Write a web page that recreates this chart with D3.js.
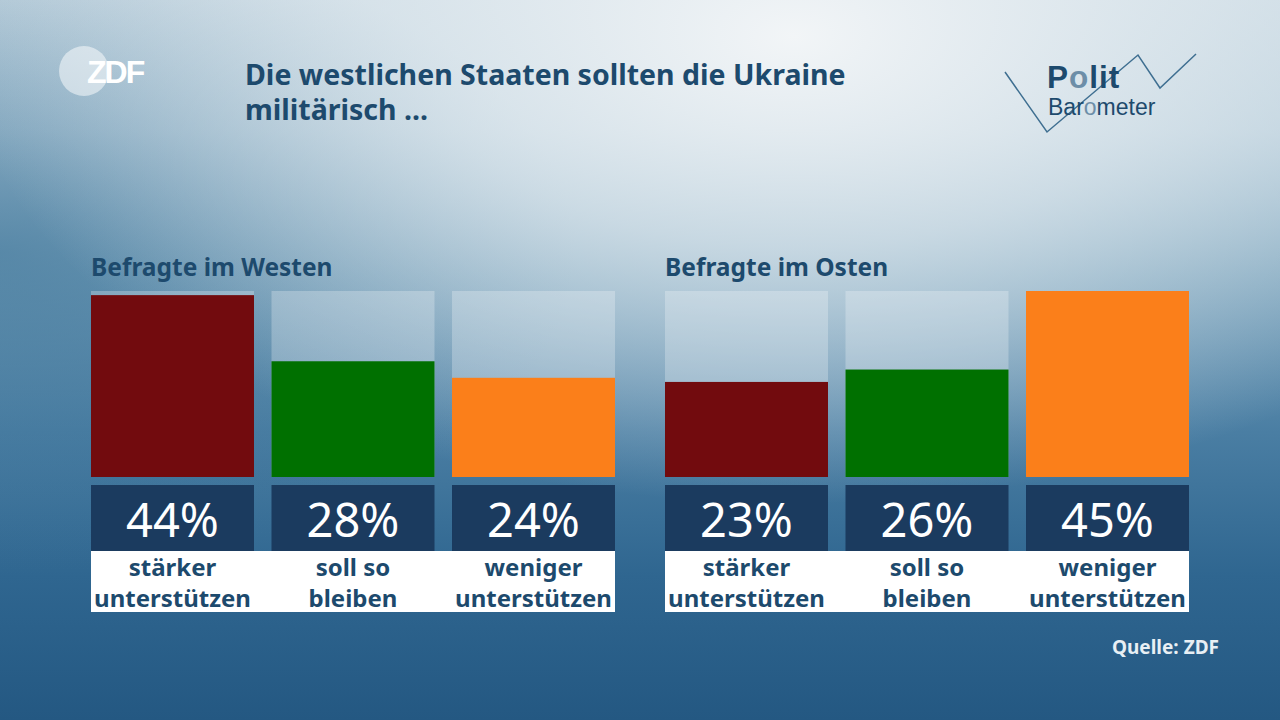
<!DOCTYPE html>
<html><head><meta charset="utf-8">
<script src="https://cdn.jsdelivr.net/npm/d3@7"></script>
<style>html,body{margin:0;padding:0;overflow:hidden;background:#245a85;}svg{display:block;font-family:"Noto Sans",Roboto,sans-serif;}</style>
</head><body><svg id="c" width="1280" height="720"></svg>
<script>
const title = ["Die westlichen Staaten sollten die Ukraine", "militärisch ..."];
const groups = ["Befragte im Westen", "Befragte im Osten"];
const categories = ["stärker\nunterstützen", "soll so\nbleiben", "weniger\nunterstützen"];
const west = [44, 28, 24];
const east = [23, 26, 45];
const colors = ["#720b0e", "#007000", "#fb7f1a"];
const source = "Quelle: ZDF";

const svg = d3.select("#c");
const defs = svg.append("defs");
const lg = defs.append("linearGradient").attr("id","bg").attr("x1",0).attr("y1",0).attr("x2",0).attr("y2",1);
[[0,"#c3d5e0"],[0.18,"#afc8d7"],[0.38,"#7aa3bc"],[0.6,"#4a7ea3"],[0.8,"#2f6690"],[1,"#245882"]].forEach(s=>lg.append("stop").attr("offset",s[0]).attr("stop-color",s[1]));
const rg = defs.append("radialGradient").attr("id","glow").attr("cx",0.62).attr("cy",0.05).attr("r",0.65);
rg.append("stop").attr("offset",0).attr("stop-color","#f2f5f7").attr("stop-opacity",1);
rg.append("stop").attr("offset",0.45).attr("stop-color","#e3ebf0").attr("stop-opacity",0.7);
rg.append("stop").attr("offset",1).attr("stop-color","#e3ebf0").attr("stop-opacity",0);
const rg2 = defs.append("radialGradient").attr("id","dark").attr("cx",0.0).attr("cy",0.35).attr("r",0.45);
rg2.append("stop").attr("offset",0).attr("stop-color","#3c7398").attr("stop-opacity",0.6);
rg2.append("stop").attr("offset",1).attr("stop-color","#3c7398").attr("stop-opacity",0);
svg.append("rect").attr("width",1280).attr("height",720).attr("fill","url(#bg)");
svg.append("rect").attr("width",1280).attr("height",720).attr("fill","url(#dark)");
svg.append("rect").attr("width",1280).attr("height",720).attr("fill","url(#glow)");

// ZDF logo
svg.append("circle").attr("cx",84).attr("cy",71).attr("r",25).attr("fill","#ffffff").attr("opacity",0.5);
svg.append("text").attr("x",87).attr("y",83).attr("fill","#fff").attr("font-size",32).attr("font-weight",700)
  .attr("font-family","Liberation Sans, Arial").attr("letter-spacing",-2).text("ZDF");

// Title (one text element, two lines)
svg.append("text").attr("fill","#1d4a6d").attr("font-size",28.5).attr("font-weight",700)
  .selectAll("tspan").data(title).join("tspan")
  .attr("x",245).attr("y",(d,i)=>85+i*35).text(d=>d);

// Politbarometer logo
svg.append("path").attr("d","M1005,72 L1047,132 L1138,55 L1160,88 L1196,54").attr("fill","none").attr("stroke","#3f6f91").attr("stroke-width",1.5);
const pt = svg.append("text").attr("x",1047).attr("y",88).attr("font-size",31.5).attr("font-weight",700).attr("font-family","Liberation Sans, Arial").attr("fill","#1d4a6d").attr("letter-spacing",1);
pt.append("tspan").text("P"); pt.append("tspan").attr("fill","#6d8ea8").text("o"); pt.append("tspan").text("lit");
const bt = svg.append("text").attr("x",1048).attr("y",115).attr("font-size",23).attr("font-family","Liberation Sans, Arial").attr("fill","#1d4a6d");
bt.append("tspan").text("Bar"); bt.append("tspan").attr("fill","#6d8ea8").text("o"); bt.append("tspan").text("meter");

// Charts
const y = d3.scaleLinear().domain([0,45]).range([477,291]);
const panels = [{name:groups[0], vals:west, x0:91},{name:groups[1], vals:east, x0:665}];
panels.forEach(p=>{
  const x = d3.scaleBand().domain(categories).range([p.x0, p.x0+524]).paddingInner(0.097).paddingOuter(0);
  const g = svg.append("g");
  g.append("text").attr("x",p.x0).attr("y",276).attr("fill","#1d4a6d").attr("font-size",24.5).attr("font-weight",700).text(p.name);
  g.selectAll("rect.bgb").data(categories).join("rect").attr("class","bgb")
    .attr("x",d=>x(d)).attr("y",y(45)).attr("width",x.bandwidth()).attr("height",y(0)-y(45))
    .attr("fill","#ffffff").attr("opacity",0.26);
  g.selectAll("rect.bar").data(p.vals).join("rect").attr("class","bar")
    .attr("x",(d,i)=>x(categories[i])).attr("y",d=>y(d)).attr("width",x.bandwidth()).attr("height",d=>y(0)-y(d))
    .attr("fill",(d,i)=>colors[i]);
  g.selectAll("rect.vbox").data(p.vals).join("rect").attr("class","vbox")
    .attr("x",(d,i)=>x(categories[i])).attr("y",485).attr("width",x.bandwidth()).attr("height",67).attr("fill","#1b3b5f");
  g.append("rect").attr("x",p.x0).attr("y",551).attr("width",524).attr("height",61).attr("fill","#ffffff");
  g.selectAll("text.val").data(p.vals).join("text").attr("class","val")
    .attr("x",(d,i)=>x(categories[i])+x.bandwidth()/2).attr("y",537).attr("text-anchor","middle")
    .attr("fill","#fff").attr("font-size",47).text(d=>d+"%");
  categories.forEach(c=>{
    const lines=c.split("\n");
    g.append("text").attr("fill","#1d4a6d").attr("font-size",24).attr("font-weight",700).attr("text-anchor","middle")
      .selectAll("tspan").data(lines).join("tspan")
      .attr("x",x(c)+x.bandwidth()/2).attr("y",(d,i)=>576+i*31).text(d=>d);
  });
});

svg.append("text").attr("x",1219).attr("y",654).attr("text-anchor","end").attr("fill","#e8eff4").attr("font-size",19).attr("font-weight",700).text(source);
</script></body></html>
